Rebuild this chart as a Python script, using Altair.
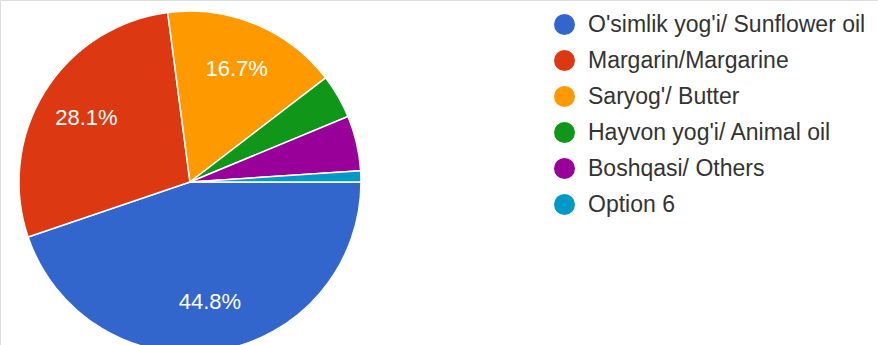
import altair as alt
import pandas as pd
import math

categories = [
    "O'simlik yog'i/ Sunflower oil",
    "Margarin/Margarine",
    "Saryog'/ Butter",
    "Hayvon yog'i/ Animal oil",
    "Boshqasi/ Others",
    "Option 6",
]
counts = [43, 27, 16, 4, 5, 1]
colors = ["#3366CC", "#DC3912", "#FF9900", "#109618", "#990099", "#0099C6"]

total = sum(counts)
df = pd.DataFrame({
    "category": categories,
    "count": counts,
    "order": list(range(len(categories))),
})
df["pct"] = df["count"] / total
df["label"] = [f"{p*100:.1f}%" if p >= 0.1 else "" for p in df["pct"]]

start = math.pi / 2
theta_scale = alt.Scale(range=[start, start + 2 * math.pi])

base = alt.Chart(df).encode(
    theta=alt.Theta("count:Q", stack=True, scale=theta_scale),
    order=alt.Order("order:Q"),
    x=alt.value(190),
    y=alt.value(182),
)

pie = base.mark_arc(outerRadius=171, stroke="white", strokeWidth=1.5).encode(
    color=alt.Color(
        "category:N",
        scale=alt.Scale(domain=categories, range=colors),
        sort=categories,
        legend=alt.Legend(
            title=None,
            orient="none",
            legendX=553,
            legendY=13,
            symbolType="circle",
            symbolSize=440,
            symbolStrokeWidth=0,
            labelFontSize=23,
            labelFont="Liberation Sans",
            labelColor="#333333",
            labelLimit=400,
            rowPadding=12,
            labelOffset=12,
        ),
    )
)

text = base.mark_text(
    radius=122, color="white", fontSize=22, font="Liberation Sans"
).encode(text="label:N")

chart = (
    alt.layer(pie, text)
    .properties(width=878, height=345, padding=0, autosize=alt.AutoSizeParams(type="none"))
    .configure_view(stroke=None)
    .configure(background="white")
)

chart.save("out.html", embed_options={"renderer": "svg", "actions": False})
